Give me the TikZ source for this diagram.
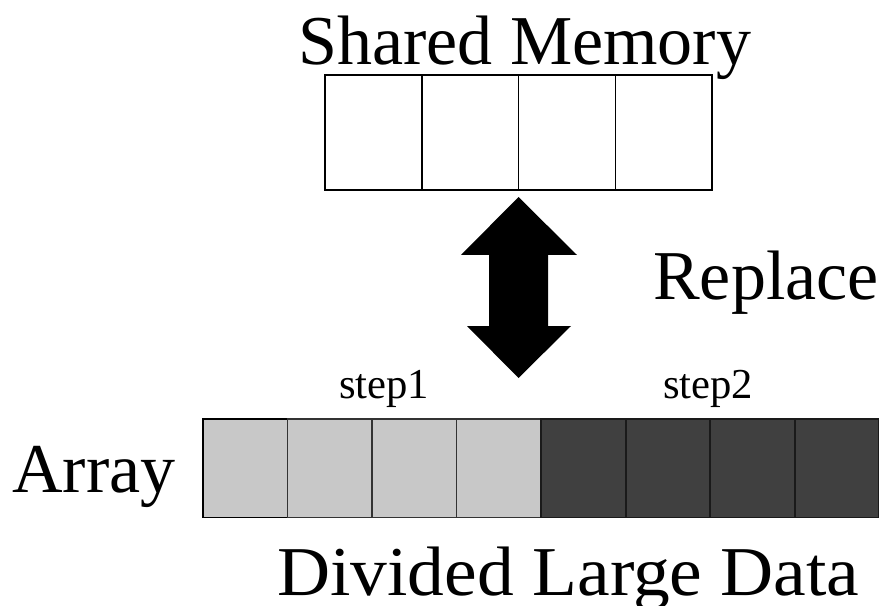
\documentclass[tikz,border=0pt]{standalone}
\usepackage{fontspec}
\setmainfont{Liberation Serif}
\usepackage{tikz}
\usetikzlibrary{positioning, calc}
\definecolor{lightcell}{HTML}{C8C8C8}
\definecolor{darkcell}{HTML}{404040}
\definecolor{darkedge}{HTML}{1A1A1A}

\begin{document}
\begin{tikzpicture}[
    x=0.75pt, y=-0.75pt,
    node distance=0pt,
    memcell/.style={rectangle, draw=black, fill=white, line width=1.3pt,
                    minimum width=72.6pt, minimum height=86.3pt,
                    inner sep=0pt, outer sep=0pt},
    arrcell/.style={rectangle, draw=#1, line width=1.3pt,
                    minimum width=63.4pt, minimum height=73.8pt,
                    inner sep=0pt, outer sep=0pt},
    bigtext/.style={font=\fontsize{52.5}{60}\selectfont, inner sep=0pt},
    steptext/.style={font=\fontsize{32}{38}\selectfont, inner sep=0pt}
]
\useasboundingbox (0,0) rectangle (879,606);

% Shared memory
\node[memcell, anchor=north west] (m1) at (325,75) {};
\foreach \i [remember=\i as \j (initially 1)] in {2,...,4}
    \node[memcell, right=of m\j] (m\i) {};
\node[bigtext, anchor=base west] (shared) at (298,65) {Shared Memory};

% Array cells
\node[arrcell=black, fill=lightcell, anchor=north west] (a1) at (203,419) {};
\foreach \i [remember=\i as \j (initially 1)] in {2,...,4}
    \node[arrcell=black!80, fill=lightcell, right=of a\j] (a\i) {};
\foreach \i [remember=\i as \j (initially 4)] in {5,...,8}
    \node[arrcell=darkedge, fill=darkcell, right=of a\j] (a\i) {};

% Labels
\node[steptext, anchor=base] (step1) at ($(a2.north east)+(12,-21)$) {step1};
\node[steptext, anchor=base] (step2) at ($(a6.north east)+(-2,-21)$) {step2};
\node[bigtext, anchor=base west] (array) at (12,492) {Array};
\node[bigtext, anchor=base west] (divided) at (277,595)
    {\scalebox{1.05}[1]{Divided Large Data}};
\node[bigtext, anchor=base west] (replace) at (653,300) {Replace};

% Double arrow
\fill (518.5,197) -- (577,255) -- (548,255) -- (548,326) -- (571,326)
    -- (518.5,378) -- (467,326) -- (489,326) -- (489,255) -- (461,255) -- cycle;
\end{tikzpicture}
\end{document}
